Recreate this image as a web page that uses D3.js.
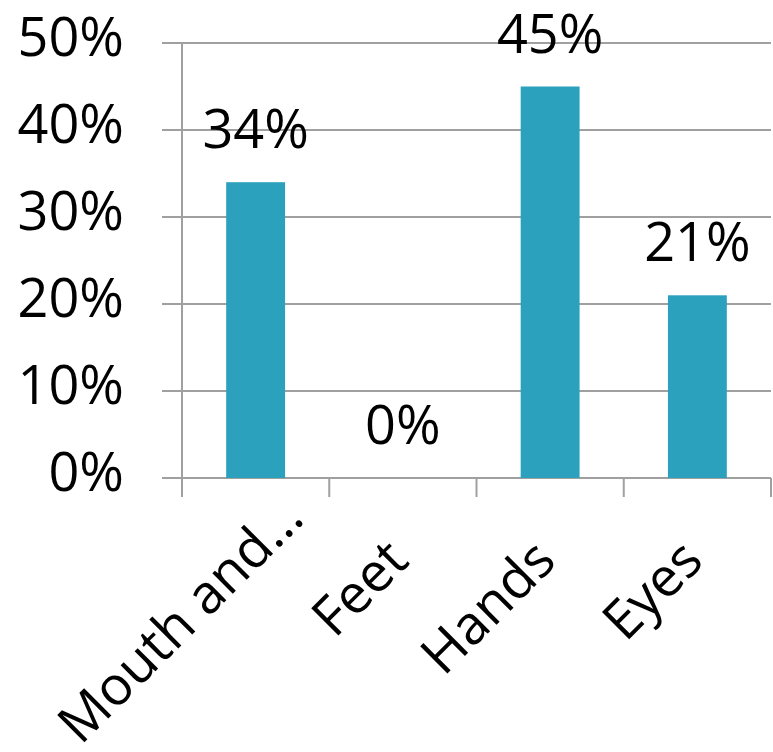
<!DOCTYPE html>
<html>
<head>
<meta charset="utf-8">
<script src="https://cdn.jsdelivr.net/npm/d3@7"></script>
<style>
  body { margin: 0; background: #fff; }
  svg text { font-family: "Open Sans", "Noto Sans", sans-serif; fill: #000; }
  .grid line, .ticks line, .axisline { stroke: #a0a0a0; stroke-width: 2; }
</style>
</head>
<body>
<svg id="chart" width="773" height="752"></svg>
<script>
let categories = ["Mouth and\u2026", "Feet", "Hands", "Eyes"];
let values = [0.34, 0, 0.45, 0.21];
let yTicks = [0, 0.1, 0.2, 0.3, 0.4, 0.5];

let plot = {left: 182, right: 771, top: 43, bottom: 478};
let fontSize = 54;
let barColor = "#2ca1be";

let svg = d3.select("svg#chart");

let x = d3.scaleBand()
          .domain(categories)
          .range([plot.left, plot.right])
          .paddingInner(0.6)
          .paddingOuter(0.3);

let y = d3.scaleLinear()
          .domain([0, 0.5])
          .range([plot.bottom, plot.top]);

let pct = d3.format(".0%");

function drawGrid() {
  svg.append("g").attr("class", "grid")
    .selectAll("line")
    .data(yTicks)
    .enter().append("line")
      .attr("x1", plot.left - 20)
      .attr("x2", plot.right)
      .attr("y1", function(d) { return y(d); })
      .attr("y2", function(d) { return y(d); });

  svg.append("line")
    .attr("class", "axisline")
    .attr("x1", plot.left).attr("x2", plot.left)
    .attr("y1", y(0.5)).attr("y2", plot.bottom + 19);

  // category boundaries
  let bounds = d3.range(categories.length + 1).map(function(i) { return plot.left + i * x.step(); });
  svg.append("g").attr("class", "ticks")
    .selectAll("line")
    .data(bounds)
    .enter().append("line")
      .attr("x1", function(d) { return d; })
      .attr("x2", function(d) { return d; })
      .attr("y1", plot.bottom)
      .attr("y2", plot.bottom + 19);
}

function drawYLabels() {
  let axis = svg.append("g")
      .attr("transform", "translate(" + plot.left + ",0)")
      .call(d3.axisLeft(y).tickValues(yTicks).tickFormat(pct)
              .tickSize(20).tickSizeOuter(0).tickPadding(38));
  axis.select(".domain").remove();
  axis.selectAll("line").remove();
  axis.attr("font-family", null).attr("font-size", null);
  axis.selectAll("text")
      .attr("dy", "0.23em")
      .attr("fill", "#000")
      .style("font-size", fontSize + "px");
}

function drawBars() {
  svg.append("g").attr("class", "bars")
    .selectAll("rect")
    .data(values)
    .enter().append("rect")
      .attr("fill", barColor)
      .attr("x", function(d, i) { return x(categories[i]); })
      .attr("width", x.bandwidth())
      .attr("y", function(d) { return y(d); })
      .attr("height", function(d) { return plot.bottom - y(d); });

  svg.append("g").attr("class", "barlabels")
    .selectAll("text")
    .data(values)
    .enter().append("text")
      .text(function(d) { return pct(d); })
      .attr("text-anchor", "middle")
      .style("font-size", fontSize + "px")
      .attr("x", function(d, i) { return x(categories[i]) + x.bandwidth() / 2; })
      .attr("y", function(d) { return y(d) - 34; });
}

function drawXLabels() {
  let k = Math.SQRT1_2;
  let labels = svg.append("g").attr("class", "xlabels")
    .selectAll("text")
    .data(categories)
    .enter().append("text")
      .text(function(d) { return d; })
      .attr("text-anchor", "end")
      .style("font-size", fontSize + "px");

  // rotated labels that would run off the bottom are pushed up along their baseline
  labels.attr("transform", function(d) {
    let len = this.getComputedTextLength();
    let ex = x(d) + x.bandwidth() / 2 + 8, ey = 563;
    let overflow = ey + len * k - 746;
    if (overflow > 0) {
      ex += overflow;
      ey -= overflow;
    }
    return "translate(" + ex + "," + ey + ") rotate(-45)";
  });
}

drawGrid();
drawBars();
drawYLabels();
drawXLabels();
</script>
</body>
</html>
